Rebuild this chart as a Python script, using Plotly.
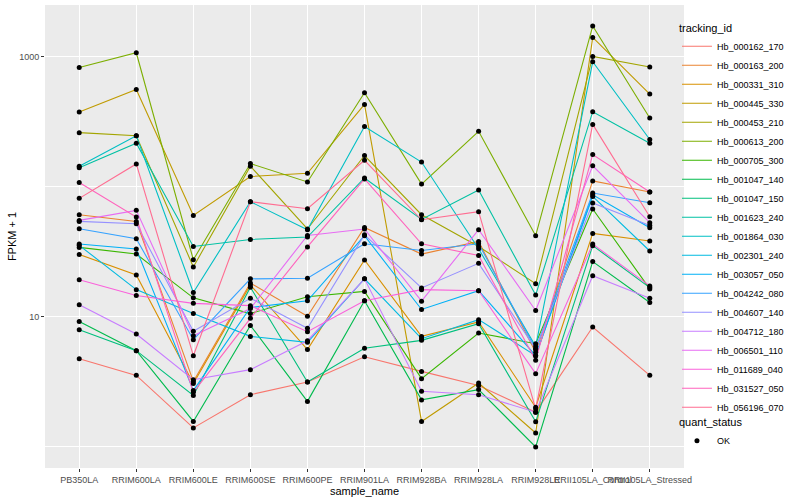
import plotly.graph_objects as go

samples = ["PB350LA", "RRIM600LA", "RRIM600LE", "RRIM600SE", "RRIM600PE", "RRIM901LA",
           "RRIM928BA", "RRIM928LA", "RRIM928LE", "RRII105LA_Control", "RRII105LA_Stressed"]

tracking_ids = ["Hb_000162_170", "Hb_000163_200", "Hb_000331_310", "Hb_000445_330", "Hb_000453_210",
                "Hb_000613_200", "Hb_000705_300", "Hb_001047_140", "Hb_001047_150", "Hb_001623_240",
                "Hb_001864_030", "Hb_002301_240", "Hb_003057_050", "Hb_004242_080", "Hb_004607_140",
                "Hb_004712_180", "Hb_006501_110", "Hb_011689_040", "Hb_031527_050", "Hb_056196_070"]

colors = ["#F8766D", "#EA8331", "#D89000", "#C09B00", "#A3A500", "#7CAE00", "#39B600", "#00BB4E",
          "#00BF7D", "#00C1A3", "#00BFC4", "#00BAE0", "#00B0F6", "#35A2FF", "#9590FF", "#C77CFF",
          "#E76BF3", "#FA62DB", "#FF62BC", "#FF6C91"]

# FPKM + 1 values per gene, in sample order
hb_000162_170 = [4.77, 3.55, 1.40, 2.52, 3.16, 4.94, 3.81, 2.97, 1.85, 8.36, 3.55]
hb_000163_200 = [61.0, 54.2, 3.19, 18.2, 10.1, 48.7, 30.4, 38.0, 5.34, 111, 91.2]
hb_000331_310 = [30.2, 21.0, 3.07, 17.6, 5.60, 27.4, 7.08, 9.14, 2.02, 43.8, 38.3]
hb_000445_330 = [376, 561, 60.3, 120, 127, 430, 1.57, 3.10, 1.28, 1407, 517]
hb_000453_210 = [261, 247, 24.2, 144, 47.4, 174, 61.0, 34.8, 18.0, 1005, 833]
hb_000613_200 = [827, 1073, 27.5, 151, 109, 529, 105, 267, 42.1, 1722, 338]
hb_000705_300 = [34.2, 30.4, 14.0, 10.6, 14.3, 15.7, 3.35, 7.52, 6.22, 67.5, 16.4]
hb_001047_140 = [9.23, 5.50, 1.57, 8.60, 2.24, 13.3, 2.30, 2.76, 1.00, 26.6, 12.9]
hb_001047_150 = [7.97, 5.50, 2.49, 16.9, 3.16, 5.73, 6.60, 8.87, 1.56, 35.3, 16.8]
hb_001623_240 = [140, 216, 34.8, 39.4, 41.1, 117, 56.2, 94.5, 14.7, 378, 216]
hb_001864_030 = [144, 247, 15.4, 76.8, 46.8, 291, 155, 33.4, 5.93, 915, 231]
hb_002301_240 = [35.5, 16.2, 10.6, 7.08, 6.37, 19.6, 6.80, 9.52, 5.03, 84.4, 32.1]
hb_003057_050 = [36.3, 33.3, 2.71, 11.8, 13.3, 42.1, 11.4, 15.9, 5.03, 86.9, 48.5]
hb_004242_080 = [47.6, 39.9, 6.68, 19.6, 19.8, 36.5, 32.4, 36.5, 5.67, 89.6, 75.5]
hb_004607_140 = [54.2, 52.0, 7.74, 13.9, 8.16, 42.8, 16.7, 25.8, 5.67, 75.1, 50.5]
hb_004712_180 = [12.4, 7.39, 3.29, 3.93, 6.56, 19.6, 2.68, 2.52, 1.85, 20.7, 13.9]
hb_006501_110 = [55.2, 65.9, 7.17, 11.6, 42.3, 47.4, 13.2, 46.8, 11.2, 145, 53.0]
hb_011689_040 = [19.3, 14.6, 12.7, 12.2, 7.70, 13.3, 16.2, 15.9, 3.66, 36.3, 17.3]
hb_031527_050 = [108, 58.6, 2.63, 9.74, 34.5, 115, 36.5, 29.7, 4.63, 177, 91.2]
hb_056196_070 = [81.5, 150, 5.03, 76.8, 67.9, 160, 55.8, 64.4, 1.96, 302, 58.9]

series = [hb_000162_170, hb_000163_200, hb_000331_310, hb_000445_330, hb_000453_210,
          hb_000613_200, hb_000705_300, hb_001047_140, hb_001047_150, hb_001623_240,
          hb_001864_030, hb_002301_240, hb_003057_050, hb_004242_080, hb_004607_140,
          hb_004712_180, hb_006501_110, hb_011689_040, hb_031527_050, hb_056196_070]

fig = go.Figure()
for name, col, vals in zip(tracking_ids, colors, series):
    fig.add_trace(go.Scatter(x=samples, y=vals, mode="lines", name=name,
                             line=dict(color=col, width=1.1), legend="legend"))

all_x = [s for vals in series for s in samples]
all_y = [v for vals in series for v in vals]
fig.add_trace(go.Scatter(x=all_x, y=all_y, mode="markers", name="OK",
                         marker=dict(color="black", size=5, symbol="circle"),
                         legend="legend2"))

font_family = "Liberation Sans, Arial, sans-serif"
fig.update_layout(
    width=800, height=500,
    margin=dict(l=45, r=116, t=5, b=32, autoexpand=False),
    paper_bgcolor="white", plot_bgcolor="#EBEBEB",
    font=dict(family=font_family, size=11, color="black"),
    xaxis=dict(type="category", range=[-0.6, 10.6], showgrid=True, gridcolor="white",
               gridwidth=1.1, ticks="outside", ticklen=3, tickcolor="#333333",
               tickfont=dict(size=9, color="#4D4D4D"), tickangle=0, automargin=False,
               title=dict(text="sample_name", font=dict(size=11), standoff=2),
               zeroline=False, showline=False),
    yaxis=dict(type="log", range=[-0.162, 3.398], tickvals=[10, 1000], ticktext=["10", "1000"],
               showgrid=True, gridcolor="white", gridwidth=1.1, ticks="outside", ticklen=3,
               tickcolor="#333333", tickfont=dict(size=9, color="#4D4D4D"), automargin=False,
               title=dict(text="FPKM + 1", font=dict(size=11), standoff=0),
               minor=dict(tickvals=[1, 100], showgrid=True, gridcolor="white", gridwidth=0.55,
                          ticks=""),
               zeroline=False, showline=False),
    legend=dict(title=dict(text="tracking_id", font=dict(size=11)), font=dict(size=9),
                x=0.989, xanchor="left", y=0.973, yanchor="top", bgcolor="rgba(0,0,0,0)",
                tracegroupgap=0, itemwidth=30),
    legend2=dict(title=dict(text="quant_status", font=dict(size=11)), font=dict(size=9),
                 x=0.989, xanchor="left", y=0.121, yanchor="top", bgcolor="rgba(0,0,0,0)",
                 itemwidth=30),
    showlegend=True,
)

fig.write_html("out.html", config={"displayModeBar": False},
               post_script="document.body.style.margin='0';")
